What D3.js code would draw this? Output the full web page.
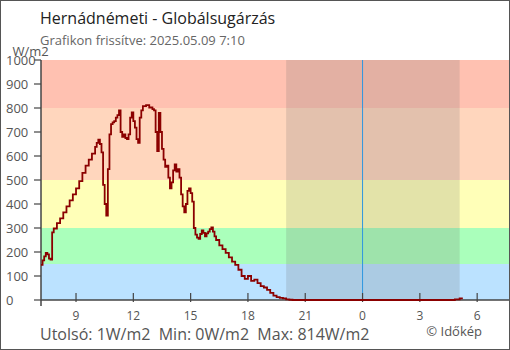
<!DOCTYPE html>
<html><head><meta charset="utf-8">
<script src="https://cdn.jsdelivr.net/npm/d3@7"></script>
<style>
html,body{margin:0;padding:0;background:#fff;}
svg{display:block;font-family:"Open Sans",sans-serif;}
</style></head>
<body><svg id="c" width="510" height="350"></svg>
<script>
// ---- data ----
const times = ["07:10","07:15","07:20","07:25","07:30","07:35","07:40","07:45","07:50","08:00","08:10","08:20","08:30","08:40","08:50",
"09:00","09:10","09:20","09:30","09:40","09:50","10:00","10:05","10:10","10:15","10:20","10:25","10:30","10:35","10:40","10:45","10:50","10:55",
"11:00","11:05","11:10","11:15","11:20","11:25","11:30","11:35","11:40","11:45","11:50","11:55",
"12:00","12:05","12:10","12:15","12:20","12:25","12:30","12:40","12:50",
"13:00","13:05","13:10","13:15","13:20","13:25","13:30","13:35","13:40","13:45","13:50","13:55",
"14:00","14:05","14:10","14:15","14:20","14:25","14:30","14:35","14:40","14:45","14:50","14:55",
"15:00","15:05","15:10","15:15","15:20","15:25","15:30","15:35","15:40","15:45","15:50","15:55",
"16:00","16:05","16:10","16:15","16:20","16:30","16:40","16:50",
"17:00","17:10","17:20","17:30","17:40","17:50","18:00","18:10","18:20","18:30","18:40","18:50",
"19:00","19:10","19:20","19:30","19:40","19:50","20:00","20:10","20:20",
"04:50","05:05","05:15"];
const values = [146,165,182,196,190,172,168,282,298,320,340,365,390,415,440,
465,495,530,560,585,610,638,655,668,650,615,480,400,352,545,690,733,740,
745,760,770,790,700,680,690,675,670,690,760,782,
745,718,670,655,760,790,808,812,802,
795,790,700,620,780,700,630,585,555,560,510,465,
490,540,565,535,545,510,440,390,365,400,455,465,
445,410,300,272,260,255,275,290,280,265,278,285,
295,303,285,265,250,228,212,196,
178,160,146,126,100,88,100,80,85,70,58,52,
42,30,18,12,9,7,3,1,0,
3,7,7];
const yTicks = [0,100,200,300,400,500,600,700,800,900,1000];
const bandEdges = [0,150,300,500,800,1000];
const bandColors = ["#bbe2ff","#aaffbb","#ffffb8","#ffd6bd","#ffc1b1"];
const domainStart = "2025-05-08T07:10", domainEnd = "2025-05-09T07:40";
const nightStart = "2025-05-08T20:00", nightEnd = "2025-05-09T05:05";
const midnight = "2025-05-09T00:00";
const title = "Hernádnémeti - Globálsugárzás";
const subtitle = "Grafikon frissítve: 2025.05.09 7:10";
const footer = "Utolsó: 1W/m2  Min: 0W/m2  Max: 814W/m2";
const credit = "© Időkép";
const yUnit = "W/m2";

// ---- build ----
const P = s => new Date(s + ":00Z");
let day = 8, prevH = -1;
const data = times.map((t,i) => {
  const h = +t.slice(0,2);
  if (h < prevH) day++;
  prevH = h;
  return {t: P(`2025-05-${String(day).padStart(2,"0")}T${t}`), v: values[i]};
});

const svg = d3.select("#c");
const L = 41, R = 509, T = 60, B = 300;
const x = d3.scaleUtc().domain([P(domainStart), P(domainEnd)]).range([L, R]);
const y = d3.scaleLinear().domain([0,1000]).range([B, T]);

// bands
for (let i = 0; i < bandColors.length; i++) {
  svg.append("rect").attr("x", L).attr("width", R - L)
    .attr("y", y(bandEdges[i+1])).attr("height", y(bandEdges[i]) - y(bandEdges[i+1]))
    .attr("fill", bandColors[i]);
}
// night
svg.append("rect").attr("x", x(P(nightStart))).attr("width", x(P(nightEnd)) - x(P(nightStart)))
  .attr("y", T).attr("height", B - T).attr("fill", "rgb(108,108,108)").attr("fill-opacity", 0.19);
// midnight line
svg.append("line").attr("x1", x(P(midnight))).attr("x2", x(P(midnight)))
  .attr("y1", T).attr("y2", B).attr("stroke", "#2f97e0").attr("stroke-width", 1);

// y axis
const gy = svg.append("g");
gy.append("line").attr("x1", L).attr("x2", L).attr("y1", T).attr("y2", B + 6).attr("stroke", "#444").attr("stroke-width", 1.5);
yTicks.forEach(v => {
  gy.append("line").attr("x1", L - 7).attr("x2", L).attr("y1", y(v)).attr("y2", y(v)).attr("stroke", "#444").attr("stroke-width", 1.2);
  gy.append("text").attr("x", 6).attr("y", y(v) + 4.5).attr("font-size", 13).attr("fill", "#555").text(v);
});
svg.append("text").attr("x", 12.5).attr("y", 56).attr("font-size", 13).attr("fill", "#555").text(yUnit);

// x axis
const gx = svg.append("g");
gx.append("line").attr("x1", L).attr("x2", R).attr("y1", B).attr("y2", B).attr("stroke", "#444").attr("stroke-width", 1.5);
const xt = x.ticks(d3.utcHour.every(3));
const fmt = d3.utcFormat("%-H");
xt.forEach(d => {
  gx.append("line").attr("x1", x(d)).attr("x2", x(d)).attr("y1", B - 7).attr("y2", B + 2).attr("stroke", "#444").attr("stroke-width", 1.2);
  gx.append("text").attr("x", x(d)).attr("y", 320).attr("text-anchor", "middle").attr("font-size", 12).attr("fill", "#555").text(fmt(d));
});

// data line
const line = d3.line().x(d => x(d.t)).y(d => y(d.v)).curve(d3.curveStepAfter);
svg.append("path").datum(data).attr("d", line).attr("fill", "none")
  .attr("stroke", "#8b0000").attr("stroke-width", 1.8).attr("stroke-linejoin", "miter");

// texts
svg.append("text").attr("x", 40).attr("y", 24).attr("font-size", 16).attr("fill", "#222").text(title);
svg.append("text").attr("x", 40).attr("y", 45).attr("font-size", 13).attr("fill", "#666").text(subtitle);
svg.append("text").attr("x", 40).attr("y", 340).attr("font-size", 16).attr("fill", "#555").attr("xml:space","preserve").style("white-space","pre").text(footer);
svg.append("text").attr("x", 482).attr("y", 336).attr("text-anchor", "end").attr("font-size", 13).attr("fill", "#555").text(credit);

// frame
svg.append("rect").attr("x", 0.5).attr("y", 0.5).attr("width", 509).attr("height", 349)
  .attr("fill", "none").attr("stroke", "#555").attr("stroke-width", 1);
</script></body></html>
